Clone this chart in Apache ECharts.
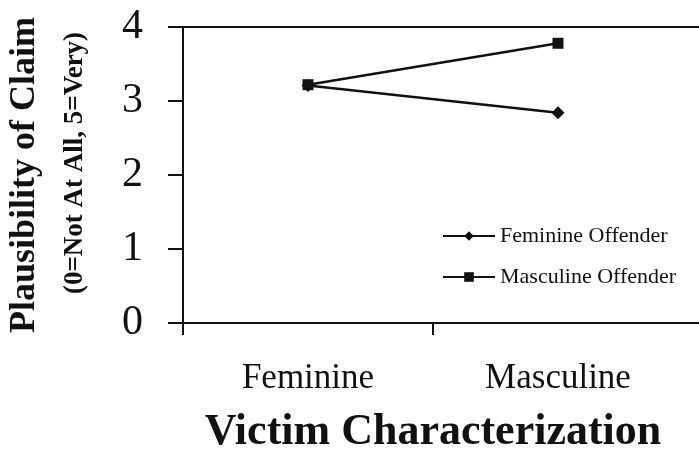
<!DOCTYPE html>
<html>
<head>
<meta charset="utf-8">
<script src="https://cdn.jsdelivr.net/npm/echarts@6/dist/echarts.min.js"></script>
<style>
  html, body { margin: 0; padding: 0; background: #fff; }
</style>
</head>
<body>
<div id="main" style="width: 699px; height: 453px"></div>
<script>
// data
var categories = ['Feminine', 'Masculine']
var feminineOffender = [3.21, 2.84]
var masculineOffender = [3.22, 3.78]
var yTicks = [0, 1, 2, 3, 4]

var serif = '"Liberation Serif", "Times New Roman", serif'
var W = 699, H = 453
var gLeft = 183, gRight = 16, gTop = 27, gBottom = 130

var chartDom = document.getElementById('main')
var myChart = echarts.init(chartDom)
var option = {
  animation: false,
  backgroundColor: '#fff',
  grid: {
    left: gLeft,
    right: gRight,
    top: gTop,
    bottom: gBottom,
    containLabel: false,
    outerBoundsMode: 'none'
  },
  // the plot frame runs on past the last category, to the picture's edge
  graphic: [
    { type: 'line', z: 10, shape: { x1: W - gRight, y1: H - gBottom, x2: W - gRight, y2: H - gBottom + 16 }, style: { stroke: '#fff', lineWidth: 6 } },
    { type: 'line', z: 10, shape: { x1: W - gRight - 4, y1: H - gBottom, x2: W, y2: H - gBottom }, style: { stroke: '#111', lineWidth: 2 } },
    { type: 'line', z: 10, shape: { x1: W - gRight - 2, y1: gTop, x2: W, y2: gTop }, style: { stroke: '#111', lineWidth: 2 } }
  ],
  legend: {
    orient: 'vertical',
    left: 437,
    top: 220,
    itemWidth: 52,
    itemHeight: 12,
    itemGap: 19,
    textStyle: {
      fontFamily: serif,
      fontSize: 22,
      color: '#111'
    },
    data: ['Feminine Offender', 'Masculine Offender']
  },
  xAxis: [
    {
      type: 'category',
      data: categories,
      boundaryGap: true,
      name: 'Victim Characterization',
      nameLocation: 'middle',
      nameGap: 88,
      nameTextStyle: {
        fontFamily: serif,
        fontWeight: 'bold',
        fontSize: 44,
        color: '#111'
      },
      axisLine: { lineStyle: { color: '#111', width: 2 } },
      axisTick: { show: true, length: 12, lineStyle: { color: '#111', width: 2 } },
      axisLabel: {
        fontFamily: serif,
        fontSize: 35,
        color: '#111',
        margin: 38
      }
    },
    {
      type: 'category',
      data: categories,
      position: 'top',
      axisLine: { show: true, lineStyle: { color: '#111', width: 2 } },
      axisTick: { show: false },
      axisLabel: { show: false }
    }
  ],
  yAxis: {
    type: 'value',
    min: yTicks[0],
    max: yTicks[yTicks.length - 1],
    interval: 1,
    name: '{a|Plausibility of Claim}\n{b|(0=Not At All, 5=Very)}',
    nameLocation: 'middle',
    nameGap: 84,
    nameRotate: 90,
    nameTextStyle: {
      rich: {
        a: { fontFamily: serif, fontWeight: 'bold', fontSize: 36, color: '#111', lineHeight: 52 },
        b: { fontFamily: serif, fontWeight: 'bold', fontSize: 27, color: '#111', lineHeight: 48, padding: [0, 0, 0, 24] }
      }
    },
    splitLine: { show: false },
    axisLine: { show: true, lineStyle: { color: '#111', width: 2 } },
    axisTick: { show: true, length: 15, lineStyle: { color: '#111', width: 2 } },
    axisLabel: {
      fontFamily: serif,
      fontSize: 42,
      color: '#111',
      margin: 40
    }
  },
  series: [
    {
      name: 'Feminine Offender',
      type: 'line',
      symbol: 'diamond',
      symbolSize: 13,
      itemStyle: { color: '#111' },
      lineStyle: { color: '#111', width: 2.5 },
      data: feminineOffender
    },
    {
      name: 'Masculine Offender',
      type: 'line',
      symbol: 'rect',
      symbolSize: 11,
      itemStyle: { color: '#111' },
      lineStyle: { color: '#111', width: 2.5 },
      data: masculineOffender
    }
  ]
}
option && myChart.setOption(option)
</script>
</body>
</html>
